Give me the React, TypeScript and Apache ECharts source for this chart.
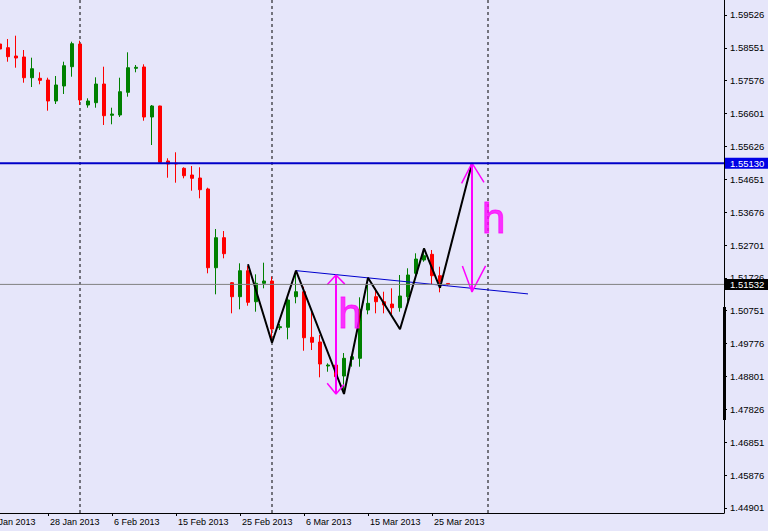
import React, { useEffect, useRef } from 'react';
import * as echarts from 'echarts';

// Trading days (Sun-Fri bars, as the terminal shows them)
const dates = [
  '18 Jan 2013', '20 Jan 2013', '21 Jan 2013', '22 Jan 2013', '23 Jan 2013', '24 Jan 2013', '25 Jan 2013',
  '27 Jan 2013', '28 Jan 2013', '29 Jan 2013', '30 Jan 2013', '31 Jan 2013', '1 Feb 2013',
  '3 Feb 2013', '4 Feb 2013', '5 Feb 2013', '6 Feb 2013', '7 Feb 2013', '8 Feb 2013',
  '10 Feb 2013', '11 Feb 2013', '12 Feb 2013', '13 Feb 2013', '14 Feb 2013', '15 Feb 2013',
  '17 Feb 2013', '18 Feb 2013', '19 Feb 2013', '20 Feb 2013', '21 Feb 2013', '22 Feb 2013',
  '24 Feb 2013', '25 Feb 2013', '26 Feb 2013', '27 Feb 2013', '28 Feb 2013', '1 Mar 2013',
  '3 Mar 2013', '4 Mar 2013', '5 Mar 2013', '6 Mar 2013', '7 Mar 2013', '8 Mar 2013',
  '10 Mar 2013', '11 Mar 2013', '12 Mar 2013', '13 Mar 2013', '14 Mar 2013', '15 Mar 2013',
  '17 Mar 2013', '18 Mar 2013', '19 Mar 2013', '20 Mar 2013', '21 Mar 2013', '22 Mar 2013',
  '24 Mar 2013', '25 Mar 2013', '26 Mar 2013', '27 Mar 2013',
];

// [open, high, low, close], aligned with dates (first two bars are off-screen)
const candles: (number[] | null)[] = [
  null, null,
  [1.58665, 1.58903, 1.58013, 1.58517],
  [1.58556, 1.58814, 1.58140, 1.58289],
  [1.58309, 1.58912, 1.57962, 1.58250],
  [1.58280, 1.58487, 1.57517, 1.57665],
  [1.57665, 1.58259, 1.57389, 1.57932],
  [1.57648, 1.57826, 1.57470, 1.57588],
  [1.57597, 1.57665, 1.56686, 1.56974],
  [1.56974, 1.57716, 1.56885, 1.57449],
  [1.57419, 1.58140, 1.57182, 1.58021],
  [1.57992, 1.58734, 1.57695, 1.58674],
  [1.58665, 1.58763, 1.56855, 1.57004],
  [1.56855, 1.57054, 1.56775, 1.56974],
  [1.56924, 1.57677, 1.56775, 1.57478],
  [1.57478, 1.57992, 1.56262, 1.56538],
  [1.56550, 1.56775, 1.56283, 1.56588],
  [1.56559, 1.57665, 1.56499, 1.57250],
  [1.57232, 1.58419, 1.57102, 1.57962],
  [1.57944, 1.58042, 1.57826, 1.57974],
  [1.57983, 1.58063, 1.56389, 1.56499],
  [1.56499, 1.56855, 1.55668, 1.56826],
  [1.56826, 1.56834, 1.55125, 1.55155],
  [1.55194, 1.55274, 1.54698, 1.55105],
  [1.55130, 1.55452, 1.54550, 1.55105],
  [1.54977, 1.55007, 1.54680, 1.54757],
  [1.54778, 1.55045, 1.54312, 1.54680],
  [1.54689, 1.55007, 1.54087, 1.54342],
  [1.54363, 1.54401, 1.51861, 1.52027],
  [1.52027, 1.53176, 1.51238, 1.52918],
  [1.52918, 1.53116, 1.52306, 1.52443],
  [1.51582, 1.51603, 1.50674, 1.51167],
  [1.51167, 1.52158, 1.50793, 1.51938],
  [1.51938, 1.52078, 1.50900, 1.51001],
  [1.51018, 1.51831, 1.50722, 1.51564],
  [1.51564, 1.52176, 1.51416, 1.51633],
  [1.51633, 1.51760, 1.49861, 1.50208],
  [1.50247, 1.50357, 1.50179, 1.50277],
  [1.50259, 1.51196, 1.49903, 1.51069],
  [1.51167, 1.51909, 1.50971, 1.51315],
  [1.51315, 1.51464, 1.49564, 1.49950],
  [1.49962, 1.50772, 1.49585, 1.49814],
  [1.49823, 1.50030, 1.48775, 1.49170],
  [1.49110, 1.49190, 1.48941, 1.49140],
  [1.49140, 1.49190, 1.48547, 1.48793],
  [1.48814, 1.49496, 1.48279, 1.49339],
  [1.49309, 1.49437, 1.49090, 1.49386],
  [1.49339, 1.51149, 1.49090, 1.50793],
  [1.50772, 1.51514, 1.50645, 1.50971],
  [1.51167, 1.51416, 1.50674, 1.51018],
  [1.51018, 1.51315, 1.50674, 1.50920],
  [1.50950, 1.51416, 1.50653, 1.50840],
  [1.50840, 1.51811, 1.50722, 1.51188],
  [1.51167, 1.52010, 1.51018, 1.51811],
  [1.51861, 1.52455, 1.51760, 1.52285],
  [1.52256, 1.52603, 1.52205, 1.52383],
  [1.52425, 1.52553, 1.51514, 1.51790],
  [1.51790, 1.52057, 1.51297, 1.51612],
  [1.51560, 1.51570, 1.51500, 1.51532],
];

const priceTicks = [
  1.44901, 1.45876, 1.46851, 1.47826, 1.48801, 1.49776, 1.50751, 1.51726,
  1.52701, 1.53676, 1.54651, 1.55626, 1.56601, 1.57576, 1.58551, 1.59526,
];

const resistanceLevel = 1.5513;
const bidLevel = 1.51532;

// bar indexes of the dashed period separators (1 Feb, 1 Mar, 1 Apr)
const separatorBars = [12, 36, 63];

// hand-drawn pattern: [bar index, price]
const zigzag = [
  [33, 1.5213], [36, 1.4980], [39, 1.5194], [45, 1.4828], [48, 1.5173],
  [52, 1.5020], [55, 1.5260], [57, 1.5143], [61, 1.5513],
];
const trendLine = [[39, 1.5194], [68, 1.5125]];
const arrow1Shaft = [[44, 1.5181], [44, 1.4828]];
const arrow1HeadTop = [[42.9, 1.5152], [44, 1.5181], [45.1, 1.5154]];
const arrow1HeadBottom = [[42.9, 1.4860], [44, 1.4828], [45.0, 1.4856]];
const arrow2Shaft = [[61, 1.5513], [61, 1.5131]];
const arrow2HeadTop = [[59.7, 1.5453], [61, 1.5513], [62.5, 1.5456]];
const arrow2HeadBottom = [[59.8, 1.5208], [61, 1.5131], [62.7, 1.5208]];
const hMarks = [[45.75, 1.5066], [63.7, 1.5349]];

const N_SLOTS = 93;
const Y_MIN = 1.44749;
const Y_MAX = 1.59971;
const FONT = '"Liberation Sans", Arial, sans-serif';
const BG = '#E6E6FA';
const MAGENTA = '#FF00FF';

export default function App() {
  const ref = useRef<HTMLDivElement>(null);

  useEffect(() => {
    const chart = echarts.init(ref.current!, null, { renderer: 'svg' });

    const categories = [...dates, ...Array(N_SLOTS - dates.length).fill('')];
    const candleData = categories.map((_, i) => {
      const c = candles[i];
      if (!c) return ['-', '-', '-', '-'];
      return [c[0], c[3], c[2], c[1]];
    });

    const lineSeries = (data: number[][], color: string, width: number, z: number, type: any = 'solid') => ({
      type: 'line',
      xAxisIndex: 1,
      yAxisIndex: 0,
      data,
      symbol: 'none',
      silent: true,
      z,
      lineStyle: { color, width, type },
      animation: false,
    });

    const levelLabel = (text: string, bg: string) => ({
      show: true,
      position: 'right',
      distance: 1,
      formatter: () => text,
      color: '#fff',
      backgroundColor: bg,
      padding: [1, 4, 0, 5],
      fontSize: 9.5,
      fontFamily: FONT,
    });

    const levelSeries = (level: number, color: string, width: number, bg: string) => ({
      ...lineSeries([[-0.5, level], [N_SLOTS - 0.5, level]], color, width, 7),
      endLabel: levelLabel(level.toFixed(5), bg),
    });

    const option: any = {
      animation: false,
      backgroundColor: BG,
      grid: {
        left: -20,
        right: 44,
        top: 0,
        bottom: 18,
        containLabel: false,
        outerBoundsMode: 'none',
      },
      xAxis: [
        {
          type: 'category',
          data: categories,
          boundaryGap: true,
          axisLine: { show: true, lineStyle: { color: '#000', width: 1 } },
          axisTick: {
            show: true,
            alignWithLabel: true,
            length: 3,
            interval: (i: number) => i < dates.length && i % 8 === 0,
            lineStyle: { color: '#000' },
          },
          axisLabel: {
            show: true,
            interval: (i: number) => i < dates.length && i % 8 === 0,
            align: 'left',
            padding: [0, 0, 0, 2],
            margin: 4,
            color: '#000',
            fontSize: 9,
            fontFamily: FONT,
          },
          splitLine: { show: false },
        },
        {
          type: 'value',
          min: -0.5,
          max: N_SLOTS - 0.5,
          show: false,
          splitLine: { show: false },
        },
      ],
      yAxis: {
        type: 'value',
        position: 'right',
        min: Y_MIN,
        max: Y_MAX,
        scale: true,
        axisLine: { show: true, onZero: false, lineStyle: { color: '#000', width: 1 } },
        axisTick: { show: true, length: 3, customValues: priceTicks, lineStyle: { color: '#000' } },
        axisLabel: {
          show: true,
          customValues: priceTicks,
          formatter: (v: number) => v.toFixed(5),
          margin: 6,
          color: '#000',
          fontSize: 9.5,
          fontFamily: FONT,
        },
        splitLine: { show: false },
      },
      graphic: [
        { type: 'rect', shape: { x: 723, y: 307, width: 3, height: 113 }, style: { fill: '#000' }, z: 10 },
      ],
      series: [
        ...separatorBars.map((b) => lineSeries([[b, Y_MIN], [b, Y_MAX]], '#000', 1, 1, [3, 3])),
        {
          type: 'candlestick',
          xAxisIndex: 0,
          yAxisIndex: 0,
          data: candleData,
          barWidth: 4,
          z: 2,
          silent: true,
          itemStyle: {
            color: '#008000',
            color0: '#FF0000',
            borderColor: '#008000',
            borderColor0: '#FF0000',
            borderWidth: 1,
          },
        },
        levelSeries(bidLevel, '#808080', 1, '#000'),
        levelSeries(resistanceLevel, '#0000C8', 2, '#0000E6'),
        lineSeries(trendLine, '#0000CD', 1, 4),
        lineSeries(zigzag, '#000', 2, 5),
        lineSeries(arrow1Shaft, MAGENTA, 2, 6),
        lineSeries(arrow1HeadTop, MAGENTA, 1.5, 6),
        lineSeries(arrow1HeadBottom, MAGENTA, 1.5, 6),
        lineSeries(arrow2Shaft, MAGENTA, 2, 6),
        lineSeries(arrow2HeadTop, MAGENTA, 1.5, 6),
        lineSeries(arrow2HeadBottom, MAGENTA, 1.5, 6),
        {
          type: 'scatter',
          xAxisIndex: 1,
          yAxisIndex: 0,
          data: hMarks,
          symbolSize: 1,
          silent: true,
          z: 6,
          itemStyle: { color: 'rgba(0,0,0,0)' },
          label: {
            show: true,
            position: 'inside',
            formatter: () => 'h',
            color: MAGENTA,
            fontSize: 42,
            fontFamily: FONT,
            textBorderColor: MAGENTA,
            textBorderWidth: 1,
          },
        },
      ],
    };

    chart.setOption(option);
    return () => chart.dispose();
  }, []);

  return (
    <div
      ref={ref}
      style={{ position: 'fixed', left: 0, top: 0, width: 768, height: 531, background: BG }}
    />
  );
}
